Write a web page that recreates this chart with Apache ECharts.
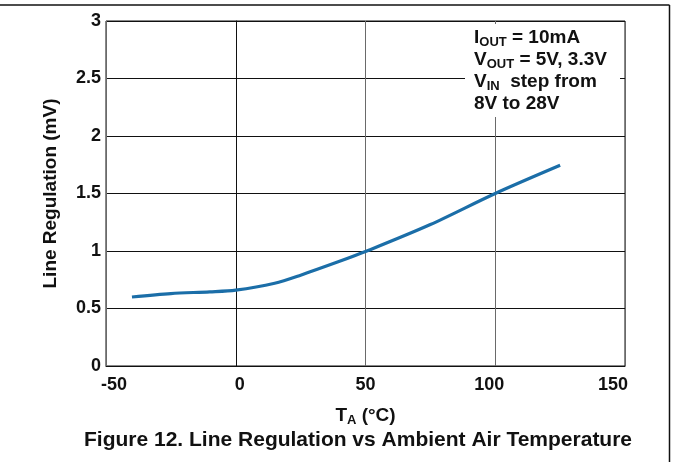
<!DOCTYPE html>
<html>
<head>
<meta charset="utf-8">
<script src="https://cdn.jsdelivr.net/npm/echarts@6/dist/echarts.min.js"></script>
<style>html,body{margin:0;padding:0;background:#fff;}#c{width:673px;height:462px;}</style>
</head>
<body>
<div id="c"></div>
<script>
var temps = [-40, -25, -10, 0, 15, 25, 40, 50, 75, 100, 125];
var lineReg = [0.60, 0.63, 0.645, 0.66, 0.72, 0.79, 0.91, 0.995, 1.23, 1.50, 1.745];
var xTicks = [-50, 0, 50, 100, 150];
var yTicks = [0, 0.5, 1, 1.5, 2, 2.5, 3];

var FONT = '"Liberation Sans", Arial, sans-serif';
var xLabelPad = {'-50': [0, 0, 0, 16], '0': [0, 0, 0, 8], '50': [0, 0, 0, 0], '100': [0, 12, 0, 0], '150': [0, 24, 0, 0]};
var xRich = {};
xTicks.forEach(function (v, i) {
  xRich['t' + i] = {fontFamily: FONT, fontWeight: 'bold', fontSize: 18, color: '#111', padding: xLabelPad[String(v)]};
});
var chart = echarts.init(document.getElementById('c'));
chart.setOption({
  animation: false,
  backgroundColor: '#fff',
  grid: {left: 106, right: 48, top: 21, bottom: 96, show: true, borderColor: '#111', borderWidth: 1, backgroundColor: 'transparent'},
  xAxis: {
    type: 'value', min: xTicks[0], max: xTicks[xTicks.length - 1], interval: 50,
    axisLine: {lineStyle: {color: '#111', width: 1}},
    axisTick: {show: false},
    splitLine: {show: true, lineStyle: {color: '#6a6a6a', width: 1}},
    axisLabel: {margin: 10, formatter: function (v) { return '{t' + xTicks.indexOf(v) + '|' + v + '}'; }, rich: xRich},
    name: '{b|T}{s|A}{b| (°C)}', nameLocation: 'middle', nameGap: 39,
    nameTextStyle: {rich: {
      b: {fontFamily: FONT, fontWeight: 'bold', fontSize: 19, color: '#111', lineHeight: 22},
      s: {fontFamily: FONT, fontWeight: 'bold', fontSize: 13, color: '#111', lineHeight: 22, padding: [9, 0, 0, 0]}
    }}
  },
  yAxis: {
    type: 'value', min: yTicks[0], max: yTicks[yTicks.length - 1], interval: 0.5,
    axisLine: {show: true, lineStyle: {color: '#111', width: 1}},
    axisTick: {show: true, length: 3, lineStyle: {color: '#111'}},
    splitLine: {show: true, lineStyle: {color: '#111', width: 1}},
    axisLabel: {color: '#111', fontFamily: FONT, fontWeight: 'bold', fontSize: 18, margin: 5},
    name: 'Line Regulation (mV)', nameLocation: 'middle', nameGap: 46,
    nameTextStyle: {fontFamily: FONT, fontWeight: 'bold', fontSize: 19, color: '#111'}
  },
  series: [{
    type: 'line', data: temps.map(function (t, i) { return [t, lineReg[i]]; }),
    smooth: 0.3, symbol: 'none',
    lineStyle: {color: '#1b6ea8', width: 3.2}
  }],
  graphic: [
    {type: 'line', shape: {x1: 0, y1: 5, x2: 669.5, y2: 5}, style: {stroke: '#111', lineWidth: 1.5}, silent: true},
    {type: 'line', shape: {x1: 669.5, y1: 5, x2: 669.5, y2: 462}, style: {stroke: '#111', lineWidth: 1.5}, silent: true},
    {type: 'rect', shape: {x: 465, y: 24, width: 155, height: 93}, style: {fill: '#fff'}, z: 50},
    {type: 'text', left: 474, top: 27, z: 51, style: {
      text: '{b|I}{s|OUT}{b| = 10mA}\n{b|V}{s|OUT}{b| = 5V, 3.3V}\n{b|V}{s|IN}{b|  step from}\n{b|8V to 28V}',
      rich: {
        b: {fontFamily: FONT, fontWeight: 'bold', fontSize: 19, fill: '#111', lineHeight: 22},
        s: {fontFamily: FONT, fontWeight: 'bold', fontSize: 13, fill: '#111', lineHeight: 22, padding: [9, 0, 0, 0]}
      }
    }},
    {type: 'text', left: 84, top: 430, style: {
      text: 'Figure 12. Line Regulation vs Ambient Air Temperature',
      font: 'bold 21px "Liberation Sans", Arial, sans-serif', fill: '#111'
    }}
  ]
});
</script>
</body>
</html>
